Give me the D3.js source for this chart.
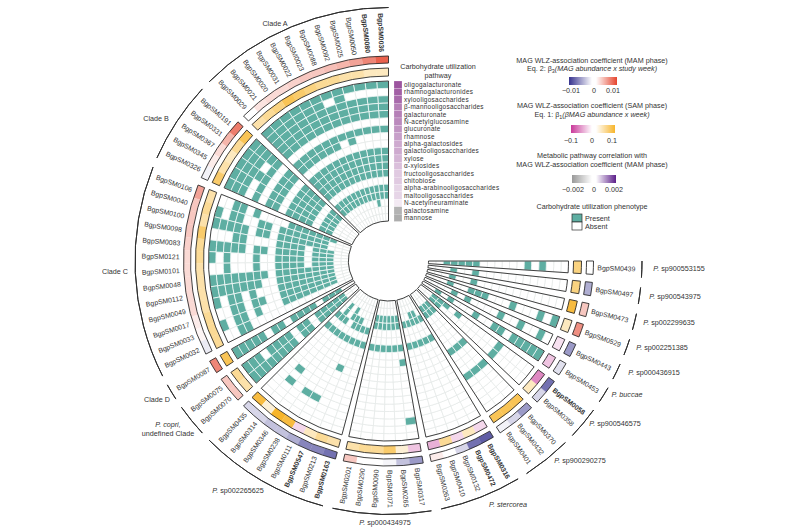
<!DOCTYPE html>
<html>
<head>
<meta charset="utf-8">
<script src="https://cdn.jsdelivr.net/npm/d3@7"></script>
<style>
  body { margin: 0; background: #fff; }
  svg { opacity: 0.999; }
  text { font-family: "Liberation Sans", Arial, sans-serif; fill: #333; }
</style>
</head>
<body>
<div class="chart"></div>
<script>
// order runs counter-clockwise from 12 o'clock
const groupLabels = ['Clade A', 'Clade B', 'Clade C', 'Clade D', 'P. copri, undefined Clade', 'P. sp002265625',
  'P. sp000434975', 'P. stercorea', 'P. sp900290275', 'P. sp900546575', 'P. buccae', 'P. sp000436915',
  'P. sp002251385', 'P. sp002299635', 'P. sp900543975', 'P. sp900553155']
const groupSizes = [12, 5, 13, 1, 2, 8, 6, 5, 3, 2, 1, 1, 1, 1, 1, 1]

const magNames = ['0036', '0080', '0050', '0025', '0092', '0088', '0023', '0022', '0031', '0020', '0021', '0029',
  '0191', '0331', '0367', '0345', '0326',
  '0106', '0040', '0100', '0098', '0083', '0121', '0101', '0048', '0112', '0049', '0017', '0033', '0032',
  '0087',
  '0075', '0070',
  '0435', '0314', '0346', '0238', '0111', '0547', '0213', '0163',
  '0201', '0290', '0090', '0071', '0265', '0317',
  '0263', '0410', '0132', '0472', '0316',
  '0401', '0432', '0370',
  '0358', '0058',
  '0453', '0443', '0529', '0473', '0497', '0439']
const boldMags = ['0036', '0080', '0547', '0163', '0472', '0316', '0058']

const mamCoef = [0.0085, 0.0065, 0.005, 0.004, 0.0035, 0.003, 0.003, 0.0025, 0.002, 0.002, 0.0015, 0,
  0.007, 0.004, 0.002, 0.001, -0.0006,
  0.005, 0.003, 0.003, 0.003, 0.0025, 0.002, 0.002, 0.002, 0.002, 0.002, 0.001, 0.0005, -0.001,
  0.0065,
  0.003, 0.003,
  -0.002, -0.002, -0.003, -0.003, -0.004, -0.006, -0.006, -0.007,
  0.003, 0, 0, -0.0005, -0.003, -0.005,
  0.001, 0, -0.002, -0.007, -0.008,
  -0.0006, -0.002, -0.005,
  -0.002, -0.007,
  -0.0015, -0.005, 0.006, 0.003, -0.004, 0]

const samCoef = [0.03, 0.03, 0.04, 0.04, 0.05, 0.05, 0.06, 0.07, 0.08, 0.06, 0.05, 0.04,
  0.08, 0.05, 0.03, 0.04, 0.07,
  0.04, 0.05, 0.04, 0.07, 0.05, 0.05, 0.04, 0.04, 0.04, 0.04, 0.05, 0.05, 0.05,
  0.08,
  0.05, 0.04,
  0.09, 0.02, 0.1, 0.09, -0.02, 0.03, 0.05, 0.04,
  0.04, 0.05, 0.05, 0.07, 0.02, -0.03,
  -0.04, 0.05, -0.02, 0.03, -0.02,
  0.08, 0.08, 0.08,
  0.03, -0.06,
  -0.03, -0.015, 0.03, 0.09, 0.06, 0.06]

const pathways = ['oligogalacturonate', 'rhamnogalacturonides', 'xylooligosaccharides', 'β-mannooligosaccharides',
  'galacturonate', 'N-acetylglucosamine', 'glucuronate', 'rhamnose', 'alpha-galactosides',
  'galactooligosaccharides', 'xylose', 'α-xylosides', 'fructooligosaccharides', 'chitobiose',
  'alpha-arabinooligosaccharides', 'maltooligosaccharides', 'N-acetylneuraminate', 'galactosamine', 'mannose']
const pathwayCorr = [0.0016, 0.0015, 0.0014, 0.0012, 0.0012, 0.0011, 0.001, 0.0009, 0.0008, 0.0008,
  0.0007, 0.0006, 0.0005, 0.0005, 0.0004, 0.0004, 0.0002, -0.0015, -0.0016]

// one string per MAG, one digit per pathway, outermost pathway first
const phenotype = [
  '1011101001111011000', '1011101001111011000', '1011101001111011100', '1011101001111011000',
  '1111101101111011000', '1011101001111011000', '1111101101111011000', '1111101101111011000',
  '1111101101111011000', '1111101101111011000', '1111101101111011000', '1111101101111011000',
  '1111101101111011000', '1110101101111011000', '1111101101111011000', '1110101101111011000', '1110101101111011000',
  '0011010000111111100', '1011001101111111000', '1111101101111111000', '0001100001111011100',
  '1111101101111011100', '1010001001111011100', '0010001001111011100', '1111111101111111100',
  '1111111001111111100', '1011010001111111100', '0011011001111111100', '1011010001111111100',
  '0011000000000000000',
  '1111101101111011100',
  '1110111101101111100', '1111111101101111100',
  '0000000000001010000', '0001010000001011100', '0000000000001010000', '0001000000001001100',
  '0001000000001011000', '0000000010001011000', '0000000000001010000', '0000000000001010000',
  '0000000000001001100', '0000000000001001100', '0000000000001001100', '0000000000001001100',
  '0000000000001001100', '0010000000101001100',
  '0000000000001001000', '0000000000001001000', '0000000000001001100', '0000000000001001100', '0000000000001001000',
  '0000010001000001100', '0000010001000001100', '0000010001000001100',
  '0000010000000001100', '0000010000001011100',
  '1111101100100010100', '0100100100001010000', '1010001000111001000',
  '0000000000001001000', '0000000000001001000', '0001010000001111100']

const width = 800
const height = 530
const cx = 388.5
const cy = 261
const rad = Math.PI / 180

const teal = '#5eaea2'
const line = '#2e2e2e'

const mamColor = d3.scaleLinear().domain([-0.01, 0, 0.01]).range(['#37348f', '#ffffff', '#e5452e'])
const samColor = d3.scaleLinear().domain([-0.1, 0, 0.1]).range(['#c9399a', '#ffffff', '#f7b52b'])
const corrColor = d3.scaleLinear().domain([-0.002, 0, 0.0016, 0.002]).range(['#999999', '#ffffff', '#9c559f', '#5c1f8a'])

// 63 MAG slots plus 15 gaps of 0.6 slot fill 270 degrees
const gapSlots = 0.6
const slotCount = magNames.length + (groupSizes.length - 1) * gapSlots
const angle = d3.scaleLinear().domain([0, slotCount]).range([0, -270 * rad])
const radius = d3.scaleBand().domain(pathways).range([180, 40])

const groups = []
let slot = 0
let first = 0
groupSizes.forEach((n, i) => {
  groups.push({ label: groupLabels[i], start: slot, end: slot + n, first, n })
  slot += n + gapSlots
  first += n
})
const mags = []
groups.forEach(g => {
  d3.range(g.n).forEach(j => {
    const k = g.first + j
    mags.push({ name: magNames[k], mam: mamCoef[k], sam: samCoef[k], bits: phenotype[k], start: g.start + j })
  })
})

const svg = d3.select('.chart')
  .append('svg')
  .attr('width', width)
  .attr('height', height)

const defs = svg.append('defs')
const plot = svg.append('g').attr('transform', `translate(${cx},${cy})`)
const arc = d3.arc()

const wedge = (r0, r1, s, e) => arc({
  innerRadius: r0, outerRadius: r1, startAngle: angle(s), endAngle: angle(e)
})

// matrix: empty cells first so the white borders of filled cells sit on top
const cells = []
mags.forEach(m => {
  pathways.forEach((p, i) => {
    cells.push({ p, on: m.bits[i] === '1', start: m.start })
  })
})
const drawCell = d => {
  const inner = radius(d.p)
  return wedge(inner, inner + radius.bandwidth(), d.start, d.start + 1)
}
plot.append('g').selectAll('path')
  .data(cells.filter(d => !d.on))
  .join('path')
  .attr('d', drawCell)
  .attr('fill', '#fff')
  .attr('stroke', '#e4e8e7')
  .attr('stroke-width', 0.7)
plot.append('g').selectAll('path')
  .data(cells.filter(d => d.on))
  .join('path')
  .attr('d', drawCell)
  .attr('fill', teal)
  .attr('stroke', '#fff')
  .attr('stroke-width', 0.7)

// coefficient rings
const rings = [
  { r0: 185, r1: 193, value: d => samColor(d.sam) },
  { r0: 198, r1: 205, value: d => mamColor(d.mam) }
]
rings.forEach(ring => {
  plot.append('g').selectAll('path')
    .data(mags)
    .join('path')
    .attr('d', d => wedge(ring.r0, ring.r1, d.start, d.start + 1))
    .attr('fill', ring.value)
    .attr('stroke', ring.value)
    .attr('stroke-width', 0.3)
})

// group outlines
const outlines = [[40, 180], [185, 193], [198, 205]]
outlines.forEach(([r0, r1]) => {
  plot.append('g').selectAll('path')
    .data(groups)
    .join('path')
    .attr('d', g => wedge(r0, r1, g.start, g.end))
    .attr('fill', 'none')
    .attr('stroke', line)
    .attr('stroke-width', 0.9)
})

// outer group arcs
plot.append('g').selectAll('path')
  .data(groups)
  .join('path')
  .attr('d', g => wedge(253.5, 253.5, g.start, g.end))
  .attr('fill', 'none')
  .attr('stroke', line)
  .attr('stroke-width', 1)

// MAG labels, always readable: left half reads inward, right half outward
plot.append('g').selectAll('text')
  .data(mags)
  .join('text')
  .text(d => `BgpSM${d.name}`)
  .attr('font-size', 6.9)
  .attr('font-weight', d => boldMags.includes(d.name) ? 'bold' : null)
  .attr('dy', '0.35em')
  .attr('text-anchor', d => angle(d.start + 0.5) > -Math.PI ? 'end' : 'start')
  .attr('transform', d => {
    const deg = angle(d.start + 0.5) / rad
    return deg > -180
      ? `rotate(${deg + 90}) translate(-209,0)`
      : `rotate(${deg - 90}) translate(209,0)`
  })

// group names
const groupNamePos = [
  [275, 23], [156, 118], [115, 271], [157, 399], null, [238, 490], [385, 522], [508, 504],
  [580, 460], [615, 423], [627, 394], [654, 372], [662, 347], [669, 322], [675, 296], [679, 268]
]
const italicPrefix = /^P\. /
groups.forEach((g, i) => {
  const pos = groupNamePos[i]
  if (!pos) return
  const t = svg.append('text')
    .attr('x', pos[0])
    .attr('y', pos[1] + 2.5)
    .attr('font-size', 7.2)
    .attr('text-anchor', 'middle')
  if (italicPrefix.test(g.label)) {
    const species = g.label.slice(3)
    t.append('tspan').attr('font-style', 'italic').text('P. ')
    t.append('tspan').attr('font-style', species.startsWith('sp') ? null : 'italic').text(species)
  } else {
    t.text(g.label)
  }
})
svg.append('text').attr('x', 168).attr('y', 427).attr('font-size', 7.2).attr('text-anchor', 'middle')
  .attr('font-style', 'italic').text('P. copri,')
svg.append('text').attr('x', 168).attr('y', 435.5).attr('font-size', 7.2).attr('text-anchor', 'middle')
  .text('undefined Clade')

// pathway legend
const stripY = d3.scaleBand().domain(pathways).range([81, 221.5])
const pathLegend = svg.append('g')
pathLegend.selectAll('rect')
  .data(pathways)
  .join('rect')
  .attr('x', 394)
  .attr('y', d => stripY(d))
  .attr('width', 8)
  .attr('height', stripY.bandwidth())
  .attr('fill', (d, i) => corrColor(pathwayCorr[i]))
  .attr('stroke', '#fff')
  .attr('stroke-width', 0.2)
pathLegend.selectAll('text')
  .data(pathways)
  .join('text')
  .attr('x', 404)
  .attr('y', d => stripY(d) + stripY.bandwidth() / 2)
  .attr('dy', '0.35em')
  .attr('font-size', 6.4)
  .attr('letter-spacing', 0.3)
  .text(d => d)
svg.append('text').attr('x', 438).attr('y', 69).attr('font-size', 7.2).attr('text-anchor', 'middle')
  .text('Carbohydrate utilization')
svg.append('text').attr('x', 438).attr('y', 77.5).attr('font-size', 7.2).attr('text-anchor', 'middle')
  .text('pathway')

// colour legends
const legendX = 592
const title = (y, parts) => {
  const t = svg.append('text').attr('x', legendX).attr('y', y).attr('font-size', 7.2).attr('text-anchor', 'middle')
  parts.forEach(p => {
    const s = t.append('tspan').text(p.text)
    if (p.italic) s.attr('font-style', 'italic')
    if (p.sub) s.attr('font-size', 5.4).attr('dy', 1.5)
    if (p.back) s.attr('dy', -1.5)
  })
}
const gradientBar = (id, x, y, w, from, to) => {
  const grad = defs.append('linearGradient').attr('id', id)
  grad.append('stop').attr('offset', '0%').attr('stop-color', from)
  grad.append('stop').attr('offset', '100%').attr('stop-color', to)
  svg.append('rect').attr('x', x).attr('y', y).attr('width', w).attr('height', 8).attr('fill', `url(#${id})`)
}
const tick = (x, y, label) => {
  svg.append('text').attr('x', x).attr('y', y).attr('font-size', 7.2).attr('text-anchor', 'middle').text(label)
}

title(63, [{ text: 'MAG WLZ-association coefficient (MAM phase)' }])
title(71, [{ text: 'Eq. 2: β' }, { text: '3', sub: true }, { text: '(MAG abundance x study week)', italic: true, back: true }])
gradientBar('mam-neg', 569, 77, 23, mamColor(-0.01), mamColor(0))
gradientBar('mam-pos', 596, 77, 21, mamColor(0), mamColor(0.01))
tick(571, 93, '−0.01'); tick(594, 93, '0'); tick(613, 93, '0.01')

title(108, [{ text: 'MAG WLZ-association coefficient (SAM phase)' }])
title(117, [{ text: 'Eq. 1: β' }, { text: '1', sub: true }, { text: '(β', italic: true, back: true }, { text: 'MAG abundance x week)', italic: true }])
gradientBar('sam-neg', 571, 125, 21, samColor(-0.1), samColor(0))
gradientBar('sam-pos', 596, 125, 19, samColor(0), samColor(0.1))
tick(571, 143, '−0.1'); tick(592, 143, '0'); tick(612, 143, '0.1')

title(158, [{ text: 'Metabolic pathway correlation with' }])
title(167, [{ text: 'MAG WLZ-association coefficient (MAM phase)' }])
gradientBar('corr-neg', 572, 175, 20, corrColor(-0.002), corrColor(0))
gradientBar('corr-pos', 596, 175, 20, corrColor(0), corrColor(0.002))
tick(573, 192, '−0.002'); tick(594, 192, '0'); tick(614, 192, '0.002')

title(209, [{ text: 'Carbohydrate utilization phenotype' }])
const phenoKeys = [['Present', teal], ['Absent', '#fff']]
phenoKeys.forEach(([label, fill], i) => {
  svg.append('rect').attr('x', 572).attr('y', 214 + i * 8).attr('width', 10).attr('height', 8)
    .attr('fill', fill).attr('stroke', line).attr('stroke-width', 0.7)
  svg.append('text').attr('x', 585).attr('y', 220.5 + i * 8).attr('font-size', 7.2).text(label)
})
</script>
</body>
</html>
